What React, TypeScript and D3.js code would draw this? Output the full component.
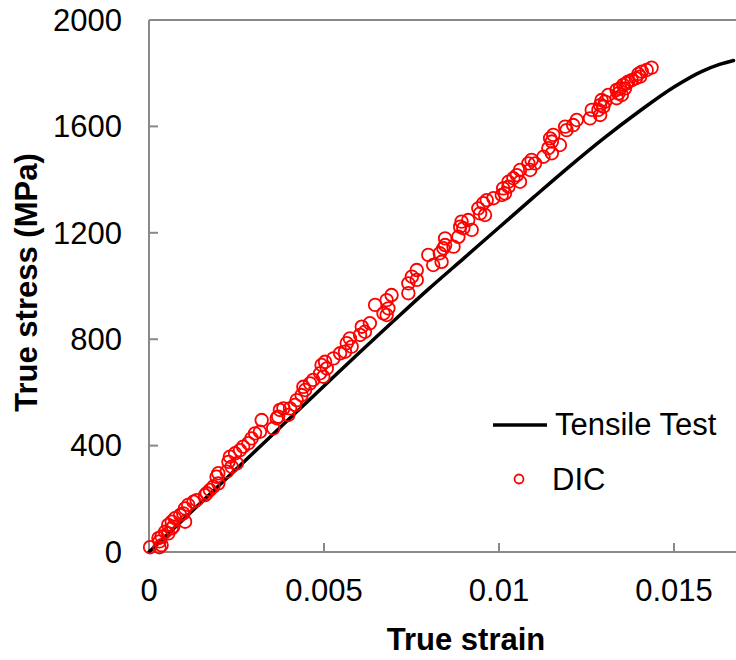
import React from "react";
import * as d3 from "d3";

const tensileStrain = [0, 0.001, 0.002, 0.003, 0.004, 0.005, 0.006, 0.007, 0.008, 0.009, 0.010, 0.011, 0.012, 0.013, 0.014, 0.015, 0.0158, 0.0163, 0.0167];
const tensileStress = [0, 125, 250, 375, 500, 624, 748, 870, 990, 1105, 1220, 1335, 1448, 1556, 1656, 1748, 1807, 1833, 1848];

const dicStrain = [
  0.00003, 0.0003, 0.00036, 0.0003, 0.00027, 0.00036, 0.00046, 0.00055, 0.00055, 0.00065,
  0.00069, 0.00065, 0.00074, 0.00089, 0.00098, 0.00103, 0.00103, 0.00112, 0.00127, 0.00136,
  0.0016, 0.00165, 0.00174, 0.00184, 0.00193, 0.00198, 0.00198, 0.00222, 0.00227, 0.00236,
  0.00231, 0.00246, 0.00251, 0.0026, 0.00269, 0.00284, 0.00293, 0.00303, 0.00317, 0.00322,
  0.00355, 0.00365, 0.00369, 0.00374, 0.00384, 0.00398, 0.00403, 0.00417, 0.00422, 0.00436,
  0.00446, 0.00441, 0.0046, 0.00469, 0.00498, 0.00489, 0.00508, 0.00493, 0.00503, 0.00527,
  0.00546, 0.0056, 0.00579, 0.00565, 0.00574, 0.00603, 0.00617, 0.00608, 0.00631, 0.00646,
  0.0067, 0.00679, 0.00684, 0.00679, 0.00693, 0.00741, 0.00741, 0.00765, 0.00751, 0.00765,
  0.00812, 0.00798, 0.00836, 0.00831, 0.00841, 0.00846, 0.0087, 0.00846, 0.00884, 0.00922,
  0.00898, 0.00889, 0.00893, 0.00912, 0.0096, 0.00946, 0.00941, 0.00955, 0.00965, 0.00984,
  0.01008, 0.01017, 0.01012, 0.01027, 0.01027, 0.0106, 0.01041, 0.01051, 0.0106, 0.01089,
  0.01084, 0.01103, 0.01093, 0.01127, 0.01151, 0.01141, 0.01174, 0.01151, 0.01146, 0.01155,
  0.01193, 0.01189, 0.01212, 0.01222, 0.0126, 0.01289, 0.01265, 0.01284, 0.01298, 0.01289,
  0.01293, 0.01303, 0.01336, 0.01312, 0.01351, 0.01341, 0.01336, 0.01346, 0.0136, 0.01355,
  0.01365, 0.01369, 0.01379, 0.01391, 0.01403, 0.01398, 0.01408, 0.01422, 0.01436,
];
const dicStress = [
  18, 18, 26, 40, 52, 58, 76, 70, 102, 89,
  95, 114, 127, 139, 145, 114, 164, 177, 189, 195,
  214, 221, 233, 246, 283, 258, 296, 302, 339, 321,
  358, 371, 333, 383, 396, 409, 427, 446, 452, 496,
  465, 503, 509, 534, 540, 515, 540, 553, 571, 590,
  609, 621, 634, 647, 659, 672, 690, 703, 715, 728,
  747, 753, 772, 785, 803, 816, 828, 847, 860, 929,
  897, 891, 916, 947, 966, 973, 1010, 1023, 1035, 1060,
  1079, 1117, 1091, 1123, 1142, 1154, 1148, 1179, 1185, 1211,
  1217, 1223, 1242, 1248, 1267, 1273, 1292, 1311, 1323, 1330,
  1342, 1348, 1367, 1373, 1392, 1392, 1405, 1417, 1436, 1436,
  1461, 1461, 1474, 1486, 1499, 1518, 1530, 1543, 1555, 1568,
  1586, 1599, 1605, 1624, 1630, 1643, 1662, 1662, 1674, 1680,
  1699, 1693, 1706, 1718, 1718, 1724, 1737, 1743, 1743, 1756,
  1762, 1768, 1774, 1781, 1787, 1797, 1806, 1812, 1821,
];

const xTicks = [0, 0.005, 0.01, 0.015];
const xTickLabels = ["0", "0.005", "0.01", "0.015"];
const yTicks = [0, 400, 800, 1200, 1600, 2000];
const yTickLabels = ["0", "400", "800", "1200", "1600", "2000"];
const seriesNames = ["Tensile Test", "DIC"];
const xTitle = "True strain";
const yTitle = "True stress (MPa)";

const W = 736;
const H = 660;
const FONT = "'Liberation Sans', Arial, sans-serif";

export default function App() {
  const x = d3.scaleLinear().domain([0, 0.02]).range([149, 849]);
  const y = d3.scaleLinear().domain([0, 2000]).range([552, 20]);
  const axisColor = "#898989";

  const linePts = tensileStrain.map((s, i) => [s, tensileStress[i]] as [number, number]);
  const linePath = d3
    .line<[number, number]>()
    .x((d) => x(d[0]))
    .y((d) => y(d[1]))
    .curve(d3.curveMonotoneX)(linePts) as string;

  const dic = dicStrain.map((s, i) => ({ s, v: dicStress[i] }));

  return (
    <svg
      width={W}
      height={H}
      viewBox={`0 0 ${W} ${H}`}
      style={{ position: "absolute", left: 0, top: 0, background: "#fff" }}
      fontFamily={FONT}
    >
      <rect x={0} y={0} width={W} height={H} fill="#fff" />
      {/* plot frame: top border */}
      <line x1={x(0)} x2={W} y1={y(2000)} y2={y(2000)} stroke={axisColor} strokeWidth={2} />
      {/* y axis */}
      <line x1={x(0)} x2={x(0)} y1={y(0)} y2={y(2000)} stroke={axisColor} strokeWidth={2} />
      {yTicks.map((t, i) => (
        <g key={"yt" + i}>
          <line x1={x(0)} x2={x(0) + 9} y1={y(t)} y2={y(t)} stroke={axisColor} strokeWidth={2} />
          <text x={122} y={y(t)} dy="0.35em" textAnchor="end" fontSize={31} fill="#000">
            {yTickLabels[i]}
          </text>
        </g>
      ))}
      {/* x axis */}
      <line x1={x(0)} x2={W} y1={y(0)} y2={y(0)} stroke={axisColor} strokeWidth={2} />
      {xTicks.map((t, i) => (
        <g key={"xt" + i}>
          <line x1={x(t)} x2={x(t)} y1={y(0)} y2={y(0) - 9} stroke={axisColor} strokeWidth={2} />
          <text x={x(t)} y={601} textAnchor="middle" fontSize={31} fill="#000">
            {xTickLabels[i]}
          </text>
        </g>
      ))}
      {/* axis titles */}
      <text x={466} y={650} textAnchor="middle" fontSize={31} fontWeight="bold" fill="#000">
        {xTitle}
      </text>
      <text
        transform={`translate(37,282.5) rotate(-90)`}
        textAnchor="middle"
        fontSize={31}
        fontWeight="bold"
        fill="#000"
      >
        {yTitle}
      </text>
      {/* tensile curve */}
      <path d={linePath} fill="none" stroke="#000" strokeWidth={3.5} strokeLinecap="round" />
      {/* DIC markers */}
      {dic.map((d, i) => (
        <circle key={"c" + i} cx={x(d.s)} cy={y(d.v)} r={6.3} fill="none" stroke="#ff0000" strokeWidth={1.8} />
      ))}
      {/* legend */}
      <line x1={493} x2={547} y1={425} y2={425} stroke="#000" strokeWidth={3.5} />
      <text x={555} y={435} fontSize={31} fill="#000">
        {seriesNames[0]}
      </text>
      <circle cx={519} cy={479} r={4.5} fill="none" stroke="#ff0000" strokeWidth={1.8} />
      <text x={552} y={490} fontSize={31} fill="#000">
        {seriesNames[1]}
      </text>
    </svg>
  );
}
